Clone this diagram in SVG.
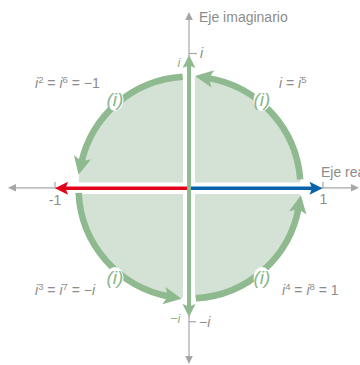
<svg xmlns="http://www.w3.org/2000/svg" width="360" height="365" viewBox="0 0 360 365">
<style>
.lbl{font-family:"Liberation Sans",Arial,sans-serif;font-size:14px;fill:#8c8c8c}
.it{font-style:italic}
.sup{font-size:9.5px}
.gtx{font-family:"Liberation Sans",Arial,sans-serif;font-style:italic;fill:#8ab68c}
.axis{stroke:#a6a6a6;stroke-width:1.2;fill:none}
.arc{stroke:#8fba90;stroke-width:6.5;fill:none;marker-end:url(#arcHead)}
.badge{fill:#fff}
</style>
<defs>
<marker id="axHead" markerUnits="userSpaceOnUse" viewBox="-1 -5 10 10" refX="0" refY="0" markerWidth="10" markerHeight="10" orient="auto-start-reverse">
<path d="M8,0 L0,-3.8 L0,3.8 Z" fill="#a6a6a6"/>
</marker>
<marker id="arcHead" markerUnits="userSpaceOnUse" viewBox="-3 -10 22 20" refX="4" refY="0" markerWidth="22" markerHeight="20" orient="auto">
<path d="M16,0 L-2,-8.8 L2,0 L-2,8.8 Z" fill="#8fba90"/>
</marker>
<marker id="vHead" markerUnits="userSpaceOnUse" viewBox="-2 -8 16 16" refX="2" refY="0" markerWidth="16" markerHeight="16" orient="auto-start-reverse">
<path d="M12,0 L-1,-6.5 L1.5,0 L-1,6.5 Z" fill="#8fba90"/>
</marker>
<marker id="redHead" markerUnits="userSpaceOnUse" viewBox="-2 -8 16 16" refX="3" refY="0" markerWidth="16" markerHeight="16" orient="auto">
<path d="M13,0 L0,-6.5 L2.5,0 L0,6.5 Z" fill="#e3001b"/>
</marker>
<marker id="blueHead" markerUnits="userSpaceOnUse" viewBox="-2 -8 16 16" refX="3" refY="0" markerWidth="16" markerHeight="16" orient="auto">
<path d="M13,0 L0,-6.5 L2.5,0 L0,6.5 Z" fill="#0762a9"/>
</marker>
</defs>

<g id="disk">
<circle cx="189.5" cy="187.5" r="111" fill="#d3e2d5"/>
<line x1="70" y1="188.3" x2="310" y2="188.3" stroke="#fff" stroke-width="11.5"/>
<line x1="189" y1="70" x2="189" y2="305" stroke="#fff" stroke-width="12"/>
</g>

<g id="axes">
<line class="axis" x1="16" y1="187.8" x2="351" y2="187.8" marker-start="url(#axHead)" marker-end="url(#axHead)"/>
<line class="axis" x1="189" y1="20" x2="189" y2="356" marker-start="url(#axHead)" marker-end="url(#axHead)"/>
<line class="axis" x1="55" y1="182" x2="55" y2="188"/>
<line class="axis" x1="323" y1="182" x2="323" y2="188"/>
<line class="axis" x1="189" y1="53.5" x2="197" y2="53.5"/>
<line class="axis" x1="189" y1="321.7" x2="196" y2="321.7"/>
</g>

<g id="connectors">
<path class="arc" d="M300.2,179.5 A111,111 0 0 0 206.9,77.9"/>
<path class="arc" d="M182.7,76.7 A111,111 0 0 0 81.2,163.1"/>
<path class="arc" d="M78.6,192.9 A111,111 0 0 0 169.8,296.7"/>
<path class="arc" d="M195.9,298.3 A111,111 0 0 0 298.8,207"/>
<line x1="188.5" y1="188.3" x2="65" y2="188.3" stroke="#e3001b" stroke-width="3.5" marker-end="url(#redHead)"/>
<line x1="190" y1="188.3" x2="312.5" y2="188.3" stroke="#0762a9" stroke-width="3.5" marker-end="url(#blueHead)"/>
<line x1="189" y1="65" x2="189" y2="307" stroke="#8fba90" stroke-width="4" marker-start="url(#vHead)" marker-end="url(#vHead)"/>
</g>

<g id="badge-tr"><ellipse class="badge" cx="262" cy="100" rx="8.5" ry="11"/><text class="gtx" x="262" y="105.5" font-size="19" text-anchor="middle">(i)</text></g>
<g id="badge-tl"><ellipse class="badge" cx="115" cy="100" rx="8.5" ry="11"/><text class="gtx" x="115" y="105.5" font-size="19" text-anchor="middle">(i)</text></g>
<g id="badge-bl"><ellipse class="badge" cx="115" cy="278" rx="8.5" ry="11"/><text class="gtx" x="115" y="283.5" font-size="19" text-anchor="middle">(i)</text></g>
<g id="badge-br"><ellipse class="badge" cx="262" cy="278" rx="8.5" ry="11"/><text class="gtx" x="262" y="283.5" font-size="19" text-anchor="middle">(i)</text></g>

<g id="labels">
<text class="lbl" x="199" y="22">Eje imaginario</text>
<text class="lbl" x="321" y="177">Eje real</text>
<text class="lbl" x="55" y="205" font-size="12" text-anchor="middle">-1</text>
<text class="lbl" x="323.5" y="204" font-size="12" text-anchor="middle">1</text>
<text class="lbl it" x="200" y="58" font-size="13">i</text>
<text class="lbl" x="199" y="327" font-size="13">−<tspan class="it">i</tspan></text>
<text class="gtx" x="177.5" y="67" font-size="13">i</text>
<text class="gtx" x="170" y="323" font-size="13">−i</text>
<text class="lbl" x="35" y="88"><tspan class="it">i</tspan><tspan class="sup" dy="-5">2</tspan><tspan dy="5"> = </tspan><tspan class="it">i</tspan><tspan class="sup" dy="-5">6</tspan><tspan dy="5"> = −1</tspan></text>
<text class="lbl" x="279" y="88"><tspan class="it">i</tspan> = <tspan class="it">i</tspan><tspan class="sup" dy="-5">5</tspan></text>
<text class="lbl" x="35" y="295"><tspan class="it">i</tspan><tspan class="sup" dy="-5">3</tspan><tspan dy="5"> = </tspan><tspan class="it">i</tspan><tspan class="sup" dy="-5">7</tspan><tspan dy="5"> = −</tspan><tspan class="it">i</tspan></text>
<text class="lbl" x="282" y="295"><tspan class="it">i</tspan><tspan class="sup" dy="-5">4</tspan><tspan dy="5"> = </tspan><tspan class="it">i</tspan><tspan class="sup" dy="-5">8</tspan><tspan dy="5"> = 1</tspan></text>
</g>
</svg>
